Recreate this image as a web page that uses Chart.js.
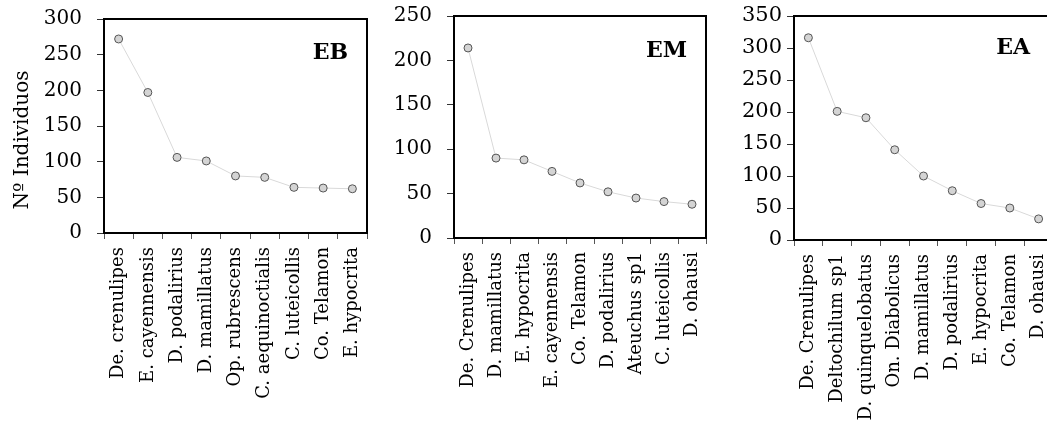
<!DOCTYPE html>
<html>
<head>
<meta charset="utf-8">
<script src="https://cdn.jsdelivr.net/npm/chart.js@4.4.1/dist/chart.umd.min.js"></script>
<style>
  html, body { margin: 0; padding: 0; background: #fff; overflow: hidden; width: 1047px; height: 432px; }
  canvas { position: absolute; top: 0; }
</style>
</head>
<body>
<canvas id="cEB" width="385" height="432" style="left:0"></canvas>
<canvas id="cEM" width="330" height="432" style="left:385px"></canvas>
<canvas id="cEA" width="350" height="432" style="left:715px"></canvas>
<script>
// ─── datos ───────────────────────────────────────────────────────────────
const ebLabels = ['De. crenulipes', 'E. cayennensis', 'D. podalirius', 'D. mamillatus', 'Op. rubrescens',
                  'C. aequinoctialis', 'C. luteicollis', 'Co. Telamon', 'E. hypocrita'];
const ebValues = [272, 197, 106, 101, 80, 78, 64, 63, 62];

const emLabels = ['De. Crenulipes', 'D. mamillatus', 'E. hypocrita', 'E. cayennensis', 'Co. Telamon',
                  'D. podalirius', 'Ateuchus sp1', 'C. luteicollis', 'D. ohausi'];
const emValues = [214, 90, 88, 75, 62, 52, 45, 41, 38];

const eaLabels = ['De. Crenulipes', 'Deltochilum sp1', 'D. quinquelobatus', 'On. Diabolicus', 'D. mamillatus',
                  'D. podalirius', 'E. hypocrita', 'Co. Telamon', 'D. ohausi'];
const eaValues = [316, 201, 191, 141, 100, 77, 57, 50, 33];

const ebTicks = [0, 50, 100, 150, 200, 250, 300];
const emTicks = [0, 50, 100, 150, 200, 250];
const eaTicks = [0, 50, 100, 150, 200, 250, 300, 350];

const FONT = "'DejaVu Serif', 'Liberation Serif', serif";
Chart.defaults.font.family = FONT;
Chart.defaults.color = '#000';

// marco negro + etiqueta del panel + título del eje Y
const framePlugin = {
  id: 'frame',
  afterDatasetsDraw(chart, args, o) {
    const a = chart.chartArea, ctx = chart.ctx;
    ctx.save();
    ctx.lineWidth = 2;
    ctx.strokeStyle = '#000';
    ctx.strokeRect(a.left, a.top, a.right - a.left, a.bottom - a.top);
    ctx.fillStyle = '#000';
    ctx.font = 'bold 22px ' + FONT;
    ctx.textAlign = 'right';
    ctx.textBaseline = 'alphabetic';
    ctx.fillText(o.tag, a.right - o.tagDx, a.top + o.tagDy);
    if (o.yTitle) {
      ctx.translate(o.yTitleX, o.yTitleY);
      ctx.rotate(-Math.PI / 2);
      ctx.textAlign = 'center';
      ctx.textBaseline = 'middle';
      ctx.font = '20px ' + FONT;
      ctx.fillText(o.yTitle, 0, 0);
    }
    ctx.restore();
  }
};

// sin relleno automático: el área del gráfico la fija solo layout.padding
function noPad(s) {
  s.paddingTop = 0; s.paddingBottom = 0; s.paddingLeft = 0; s.paddingRight = 0;
}

function makePanel(id, labels, values, ticks, p) {
  const ctx = document.getElementById(id).getContext('2d');
  return new Chart(ctx, {
    type: 'line',
    data: {
      labels: labels,
      datasets: [{
        data: values,
        borderColor: '#d9d9d9',
        borderWidth: 1,
        pointRadius: 4,
        pointBackgroundColor: '#d4d4d4',
        pointBorderColor: '#555',
        pointBorderWidth: 1,
        tension: 0,
      }],
    },
    options: {
      responsive: false,
      animation: false,
      layout: { padding: { top: p.padTop, right: p.padRight, left: 0, bottom: 0 } },
      plugins: {
        legend: { display: false },
        tooltip: { enabled: false },
        frame: p,
      },
      scales: {
        x: {
          offset: true,
          border: { display: false },
          grid: { offset: true, drawOnChartArea: false, drawTicks: true, tickLength: 6, color: '#555' },
          ticks: {
            autoSkip: false, minRotation: 90, maxRotation: 90, padding: 8,
            font: { size: 18 }, color: '#000',
          },
          afterFit: function(s) { s.height = p.xH; noPad(s); },
        },
        y: {
          min: 0,
          max: ticks[ticks.length - 1],
          border: { display: false },
          grid: { drawOnChartArea: false, drawTicks: true, tickLength: 7, color: '#333' },
          ticks: {
            stepSize: 50, padding: p.yPad,
            font: { size: p.yFont }, color: '#000',
          },
          afterBuildTicks: function(s) { s.ticks = ticks.map(v => ({ value: v })); },
          afterFit: function(s) { s.width = p.yW; noPad(s); },
        },
      },
    },
    plugins: [framePlugin],
  });
}

makePanel('cEB', ebLabels, ebValues, ebTicks, {
  yW: 104, padTop: 19, padRight: 18, xH: 199, yPad: 15, yFont: 20,
  tag: 'EB', tagDx: 19, tagDy: 40,
  yTitle: 'Nº Individuos', yTitleX: 23, yTitleY: 140,
});
makePanel('cEM', emLabels, emValues, emTicks, {
  yW: 69, padTop: 16, padRight: 9, xH: 194, yPad: 15, yFont: 20,
  tag: 'EM', tagDx: 19, tagDy: 41,
});
makePanel('cEA', eaLabels, eaValues, eaTicks, {
  yW: 79, padTop: 16, padRight: 12, xH: 192, yPad: 5, yFont: 21,
  tag: 'EA', tagDx: 23, tagDy: 38,
});
</script>
</body>
</html>
